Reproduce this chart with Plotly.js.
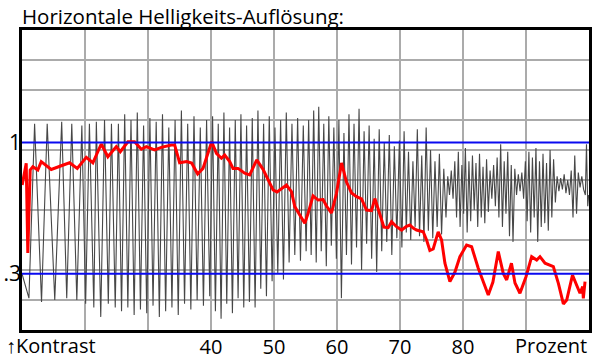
<!DOCTYPE html>
<html>
<head>
<meta charset="utf-8">
<script src="https://cdn.plot.ly/plotly-3.0.1.min.js"></script>
<style>html,body{margin:0;padding:0;background:#fff;}#chart{width:600px;height:364px;}</style>
</head>
<body>
<div id="chart"></div>
<script>
// ---- data ----
const titleText = 'Horizontale Helligkeits-Auflösung:';
const xLeftLabel = '↑Kontrast';
const xRightLabel = 'Prozent';
const xGridVals = [20, 30, 40, 50, 60, 70, 80, 90];
const xGridText = ['', '', '40', '50', '60', '70', '80', ''];
const yGridVals = [0.16, 0.32, 0.48, 0.64, 0.80, 0.96, 1.12, 1.28, 1.44];
const yLabelVals = [0.3, 1];
const yLabelText = ['.3', '1'];
const refLevels = [1, 0.3];

// red contrast curve
const redX = [10.03,10.67,10.92,11.30,11.72,12.51,13.05,14.64,16.23,17.55,
  18.77,20.20,21.25,22.58,23.63,24.97,25.60,26.81,27.87,28.94,
  29.73,31.05,32.12,33.70,34.23,35.02,36.14,36.93,37.88,38.73,
  40.11,40.86,41.65,42.17,42.97,43.49,44.29,45.35,46.14,47.26,
  48.26,49.85,50.48,51.98,52.77,53.30,54.09,54.89,55.41,56.20,
  57.00,57.79,58.33,59.13,59.92,60.72,61.51,62.31,63.10,63.89,
  64.69,65.48,66.01,66.80,67.44,68.12,68.66,69.45,70.25,71.04,
  71.57,72.09,72.63,73.68,74.22,74.74,75.27,76.06,76.60,77.13,
  77.92,78.72,79.51,80.57,81.37,82.42,82.96,84.01,84.75,85.60,
  86.39,86.93,87.69,88.25,89.04,90.00,90.90,91.70,92.22,93.02,
  94.34,95.14,95.93,96.46,97.38,98.05,98.57,99.00,99.10,99.37];
const redY = [.773,.889,.411,.853,.871,.853,.898,.856,.876,.892,
  .862,.921,.892,.992,.924,.978,.951,1.004,1.004,.964,
  .978,.960,.974,.987,.987,.892,.898,.891,.832,.862,
  1.004,.942,.916,.933,.898,.862,.862,.836,.827,.907,
  .857,.747,.736,.773,.738,.658,.613,.569,.622,.715,
  .693,.696,.661,.624,.729,.891,.789,.731,.711,.699,
  .640,.637,.701,.622,.549,.546,.578,.551,.533,.553,
  .560,.544,.533,.524,.480,.424,.432,.523,.480,.356,
  .258,.309,.391,.453,.444,.329,.284,.187,.256,.418,
  .302,.267,.356,.251,.196,.284,.391,.373,.391,.356,
  .338,.249,.139,.160,.293,.240,.196,.231,.169,.258];

// grey raw signal (peaks and troughs)
const greyX = [10.0,11.1,12.0,13.1,14.0,15.2,16.3,17.1,17.9,18.7,19.5,20.1,20.7,21.4,21.8,22.5,23.1,23.7,24.2,24.8,25.3,
  25.8,26.3,26.8,27.3,27.8,28.3,28.8,29.3,29.8,30.3,30.8,31.3,31.8,32.3,32.8,33.3,33.8,34.3,34.8,35.3,35.8,36.3,36.8,37.3,37.8,38.3,38.8,39.3,39.8,
  40.25,40.7,41.15,41.6,42.05,42.5,42.95,43.4,43.85,44.3,44.75,45.2,45.65,46.1,46.55,47.0,47.45,47.9,48.35,48.8,49.25,49.7,50.15,50.6,51.05,51.5,51.95,52.4,52.85,53.3,53.75,54.2,54.65,55.1,
  55.5,55.9,56.3,56.7,57.1,57.5,57.9,58.3,58.7,59.1,59.5,59.9,60.3,60.7,61.1,61.5,61.9,62.3,62.7,63.1,63.5,63.9,64.3,64.7,65.1,65.5,65.9,66.3,66.7,67.1,67.5,67.9,68.3,68.7,69.1,69.5,69.9,70.3,
  70.65,71.0,71.35,71.7,72.05,72.4,72.75,73.1,73.45,73.8,74.15,74.5,74.85,75.2,75.55,75.9,76.25,76.6,76.95,77.3,
  77.58,77.86,78.14,78.42,78.70,78.98,79.26,79.54,79.82,80.10,80.38,80.66,80.94,81.22,81.50,81.78,82.06,82.34,82.62,82.90,
  83.18,83.46,83.74,84.02,84.30,84.58,84.86,85.14,85.42,85.70,85.98,86.26,86.54,86.82,87.10,87.38,87.66,87.94,88.22,88.50,
  88.78,89.06,89.34,89.62,89.90,90.18,90.46,90.74,91.02,91.30,91.58,91.86,92.14,92.42,92.70,92.98,93.26,93.54,93.82,94.10,
  94.38,94.66,94.94,95.22,95.50,95.78,96.06,96.34,96.62,96.90,97.18,97.46,97.74,98.02,98.30,98.58,98.86,99.14,99.42,99.60,99.80,99.95];
const greyY = [.30,.17,1.10,.15,1.10,.16,1.11,.17,1.10,.16,1.09,.14,1.10,.12,1.11,.07,1.12,.14,1.10,.12,1.10,
  .10,1.15,.12,1.12,.08,1.16,.11,1.09,.09,1.13,.13,1.11,.07,1.15,.10,1.08,.12,1.12,.08,1.17,.14,1.10,.11,1.14,.16,1.08,.13,1.12,.18,
  1.14,.10,1.10,.06,1.16,.14,1.08,.09,1.12,.17,1.15,.12,1.09,.15,1.13,.12,1.17,.22,1.10,.18,1.14,.26,1.08,.30,1.12,.27,1.16,.36,1.10,.40,1.13,.37,1.09,.42,
  1.12,.40,1.17,.36,1.19,.42,1.10,.34,1.14,.45,1.08,.38,1.12,.17,1.05,.40,1.15,.35,1.10,.44,1.18,.32,1.06,.46,1.09,.38,1.02,.31,1.07,.42,1.00,.47,1.04,.40,.98,.49,1.01,.44,
  1.06,.52,.95,.48,.90,.55,1.07,.50,.93,.47,1.08,.53,.96,.49,.90,.55,.94,.51,.86,.60,
  .82,.72,.85,.70,.90,.60,.95,.55,.88,.62,.97,.52,.90,.58,.93,.64,.89,.55,.94,.60,
  .87,.57,.91,.63,.85,.70,.88,.66,.92,.60,.99,.55,.90,.62,.95,.50,.88,.47,.86,.72,
  .83,.74,.84,.70,.90,.58,.95,.52,.92,.60,.97,.47,.90,.55,.94,.57,.89,.53,.96,.60,
  .91,.68,.82,.74,.81,.75,.83,.73,.80,.72,.85,.60,.93,.62,.84,.76,.82,.75,.72,.99,.66,.72];

// ---- chart ----
const fontFam = '"Open Sans", "Noto Sans", sans-serif';
const traces = [
  {x: greyX, y: greyY, type: 'scatter', mode: 'lines',
   line: {color: '#474747', width: 1.1}, hoverinfo: 'skip'},
  {x: [10, 100], y: [refLevels[0], refLevels[0]], yaxis: 'y2', type: 'scatter', mode: 'lines',
   line: {color: '#0a0af0', width: 2}, hoverinfo: 'skip'},
  {x: [10, 100], y: [refLevels[1], refLevels[1]], yaxis: 'y2', type: 'scatter', mode: 'lines',
   line: {color: '#0a0af0', width: 2}, hoverinfo: 'skip'},
  {x: redX, y: redY, type: 'scatter', mode: 'lines',
   line: {color: '#ff0000', width: 3}, hoverinfo: 'skip'}
];

const layout = {
  width: 600, height: 364,
  margin: {l: 22, r: 11, t: 30, b: 34},
  paper_bgcolor: '#fff', plot_bgcolor: '#fff',
  showlegend: false,
  title: {text: titleText, font: {family: fontFam, size: 20.5, color: '#000'},
          xref: 'paper', x: 0, xanchor: 'left', yref: 'container', y: 0.953, yanchor: 'middle'},
  xaxis: {range: [10, 100], tickmode: 'array', tickvals: xGridVals, ticktext: xGridText,
          showgrid: true, gridcolor: '#ababab', gridwidth: 1.5, zeroline: false,
          showline: true, mirror: true, linecolor: '#000', linewidth: 3, ticks: '',
          ticklabelstandoff: -3,
          tickfont: {family: fontFam, size: 20, color: '#000'}, fixedrange: true},
  yaxis: {range: [0, 1.6], tickmode: 'array', tickvals: yGridVals, ticktext: yGridVals.map(() => ''),
          showgrid: true, gridcolor: '#ababab', gridwidth: 1.5, zeroline: false,
          showline: true, mirror: true, linecolor: '#000', linewidth: 3, ticks: '', fixedrange: true},
  yaxis2: {range: [0, 1.6], overlaying: 'y', side: 'left', tickmode: 'array',
           tickvals: yLabelVals, ticktext: yLabelText, showgrid: false, zeroline: false,
           showline: false, ticks: '', tickfont: {family: fontFam, size: 21, color: '#000'}, fixedrange: true},
  annotations: [
    {text: xLeftLabel, xref: 'paper', yref: 'paper', x: -0.031, y: -0.05, xanchor: 'left', yanchor: 'middle',
     showarrow: false, font: {family: fontFam, size: 20, color: '#000'}},
    {text: xRightLabel, xref: 'paper', yref: 'paper', x: 1.0, y: -0.05, xanchor: 'right', yanchor: 'middle',
     showarrow: false, font: {family: fontFam, size: 20, color: '#000'}}
  ]
};

Plotly.newPlot('chart', traces, layout, {staticPlot: true, displayModeBar: false});
</script>
</body>
</html>
